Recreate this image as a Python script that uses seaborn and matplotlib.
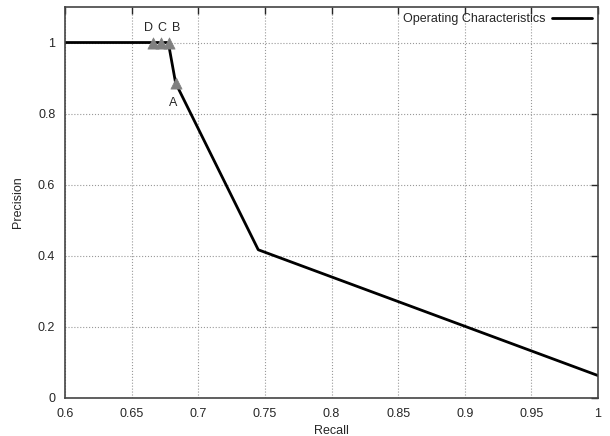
import pandas as pd
import seaborn as sns
import matplotlib.pyplot as plt

# curve points (recall, precision)
recall = [0.6, 0.6775, 0.683, 0.745, 1.0]
precision = [1.0, 1.0, 0.886, 0.417, 0.063]

# labelled operating points
point_names = ["D", "C", "B", "A"]
point_recall = [0.666, 0.672, 0.678, 0.683]
point_precision = [1.0, 1.0, 1.0, 0.886]
label_recall = [0.6623, 0.6728, 0.6835, 0.6815]

x_ticks = [0.6, 0.65, 0.7, 0.75, 0.8, 0.85, 0.9, 0.95, 1.0]
x_tick_labels = ["0.6", "0.65", "0.7", "0.75", "0.8", "0.85", "0.9", "0.95", "1"]
y_ticks = [0, 0.2, 0.4, 0.6, 0.8, 1.0]
y_tick_labels = ["0", "0.2", "0.4", "0.6", "0.8", "1"]

sns.set_style("white")
plt.rcParams["font.family"] = ["Liberation Sans", "DejaVu Sans"]
plt.rcParams["font.size"] = 9

curve = pd.DataFrame({"recall": recall, "precision": precision})
pts = pd.DataFrame({"name": point_names, "recall": point_recall, "precision": point_precision})

fig = plt.figure(figsize=(6.1, 4.36), dpi=100)
ax = fig.add_axes([0.1066, 0.0872, 0.8738, 0.8968])

sns.lineplot(data=curve, x="recall", y="precision", color="black", linewidth=2,
             label="Operating Characteristics", ax=ax, sort=False)
sns.scatterplot(data=pts, x="recall", y="precision", marker="^", s=65,
                color="#808080", edgecolor="#808080", linewidth=0.5,
                ax=ax, legend=False, zorder=5)

for n, xv, yv in zip(point_names, label_recall, point_precision):
    if n == "A":
        ax.text(xv, yv - 0.04, n, ha="center", va="top", fontsize=9)
    else:
        ax.text(xv, yv + 0.025, n, ha="center", va="bottom", fontsize=9)

ax.set_xlim(0.6, 1.0)
ax.set_ylim(0, 1.1)
ax.set_xticks(x_ticks)
ax.set_xticklabels(x_tick_labels)
ax.set_yticks(y_ticks)
ax.set_yticklabels(y_tick_labels)
ax.set_xlabel("Recall", fontsize=9, labelpad=4)
ax.set_ylabel("Precision", fontsize=9, labelpad=10)
ax.grid(True, linestyle=":", color="#999999", linewidth=0.8)
ax.tick_params(direction="in", top=True, right=True, length=5, width=1, labelsize=9)
ax.tick_params(axis="x", pad=7)
ax.tick_params(axis="y", pad=7)
for s in ax.spines.values():
    s.set_color("#444444")
    s.set_linewidth(1.2)

leg = ax.legend(loc="upper right", frameon=False, markerfirst=False, fontsize=9,
                handlelength=3.2, bbox_to_anchor=(1.0, 1.0), borderaxespad=0.1,
                borderpad=0.4, handletextpad=0.5)

plt.savefig("out.png", dpi=100)
plt.close()
